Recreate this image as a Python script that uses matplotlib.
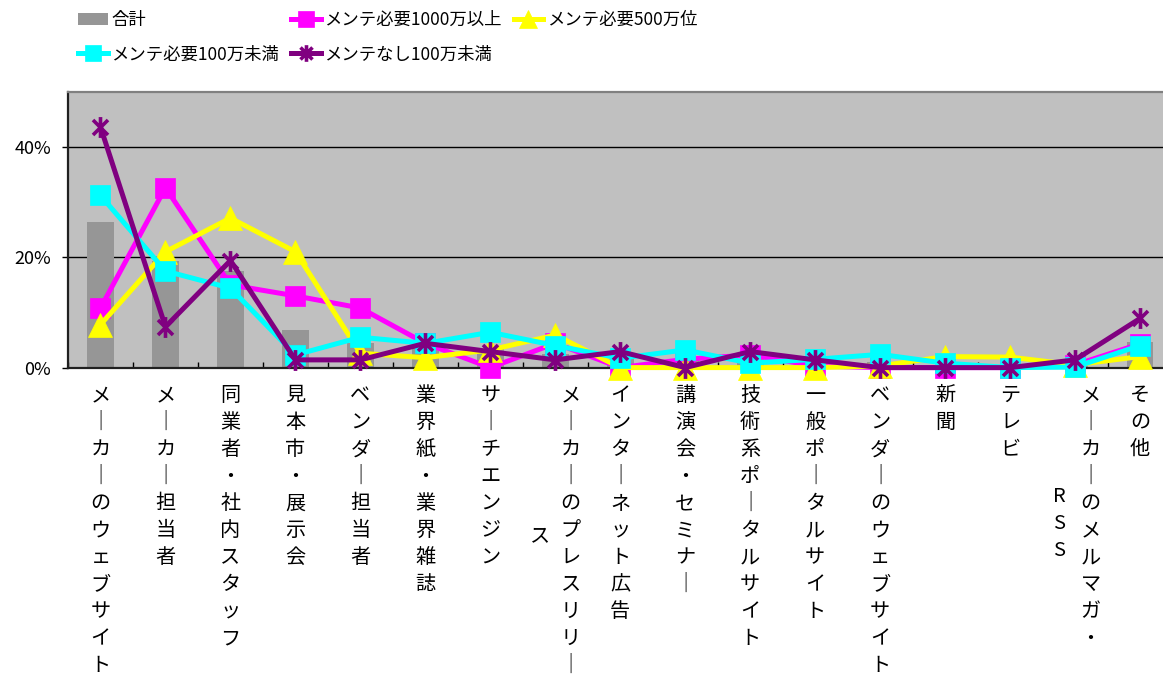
import matplotlib
matplotlib.use("Agg")
import matplotlib.pyplot as plt
from matplotlib.path import Path
from matplotlib.patches import Patch
import numpy as np

plt.rcParams['font.family'] = ['Noto Sans CJK JP', 'DejaVu Sans']

# ---- data -------------------------------------------------------------
categories = [
    "メーカーのウェブサイト", "メーカー担当者", "同業者・社内スタッフ", "見本市・展示会",
    "ベンダー担当者", "業界紙・業界雑誌", "サーチエンジン", "メーカーのプレスリリース",
    "インターネット広告", "講演会・セミナー", "技術系ポータルサイト", "一般ポータルサイト",
    "ベンダーのウェブサイト", "新聞", "テレビ", "メーカーのメルマガ・RSS", "その他",
]
total = [26.4, 19.3, 17.5, 6.8, 4.4, 4.0, 3.5, 2.5, 1.5, 1.5, 1.5, 1.0, 1.0, 0.5, 0.5, 0.5, 4.7]
maint_over_10m = [10.8, 32.6, 15.0, 13.0, 10.8, 4.4, 0.0, 4.4, 0.0, 1.5, 2.3, 0.3, 0.0, 0.0, 0.0, 0.5, 4.3]
maint_5m = [7.8, 21.0, 27.1, 21.0, 2.6, 1.8, 3.2, 5.9, 0.0, 0.0, 0.0, 0.0, 0.3, 2.0, 1.9, 0.5, 2.0]
maint_under_1m = [31.2, 17.5, 14.4, 2.3, 5.5, 4.4, 6.4, 4.0, 1.7, 3.2, 0.8, 1.5, 2.4, 0.8, 0.0, 0.1, 4.0]
no_maint_under_1m = [43.6, 7.4, 19.4, 1.4, 1.4, 4.4, 2.9, 1.4, 2.9, 0.0, 2.9, 1.4, 0.0, 0.0, 0.0, 1.4, 8.9]
series_names = ["合計", "メンテ必要1000万以上", "メンテ必要500万位",
                "メンテ必要100万未満", "メンテなし100万未満"]
y_ticks = [0, 20, 40]
y_tick_labels = ["0%", "20%", "40%"]

# ---- figure / axes (pixel geometry) -----------------------------------
W, H = 1163, 678
fig = plt.figure(figsize=(W / 100, H / 100), dpi=100)
left, right, top, bottom = 68, 1172.5, 91.7, 367.6
ax = fig.add_axes([left / W, 1 - bottom / H, (right - left) / W, (bottom - top) / H])
ax.set_facecolor('#C0C0C0')

x = np.arange(len(categories))
ax.bar(x, total, width=0.41, color='#969696', zorder=2)

# Excel-style asterisk: vertical stroke plus a diagonal cross
star = Path([(0, -1), (0, 1), (-0.72, -0.72), (0.72, 0.72), (-0.72, 0.72), (0.72, -0.72)],
            [Path.MOVETO, Path.LINETO] * 3)

series_styles = [
    (maint_over_10m, '#FF00FF', dict(marker='s', ms=14, mew=0.5)),
    (maint_5m, '#FFFF00', dict(marker='^', ms=17, mew=0.5)),
    (maint_under_1m, '#00FFFF', dict(marker='s', ms=14, mew=0.5)),
    (no_maint_under_1m, '#800080', dict(marker=star, ms=15, mew=2.6, mfc='none')),
]
handles = {}
for (vals, color, mk), name in zip(series_styles, series_names[1:]):
    kw = dict(mk)
    kw.setdefault('mfc', color)
    ln, = ax.plot(x, vals, color=color, lw=3.6, mec=color, clip_on=False,
                  zorder=3, solid_joinstyle='miter', **kw)
    handles[name] = ln
handles[series_names[0]] = Patch(facecolor='#969696', edgecolor='none')

ax.set_xlim(-0.5, len(categories) - 0.5)
ax.set_ylim(0, 50)
ax.set_yticks(y_ticks, y_tick_labels)
ax.tick_params(axis='y', length=4, width=1, direction='out', pad=8, labelsize=13,
               colors='black')
ax.yaxis.grid(True, color='black', lw=1.0)
ax.set_axisbelow(True)

ax.set_xticks(x, [''] * len(x))
ax.set_xticks(np.arange(len(categories) + 1) - 0.5, minor=True)
ax.tick_params(axis='x', which='major', length=0)
ax.tick_params(axis='x', which='minor', direction='in', length=4, width=1, color='black')

for side in ('left', 'bottom'):
    ax.spines[side].set_color('#202020')
    ax.spines[side].set_linewidth(1.6)
ax.spines['top'].set_color('#808080')
ax.spines['top'].set_linewidth(1.6)
ax.spines['right'].set_visible(False)

# ---- vertical (tategaki) category labels ------------------------------
VERTICAL_FORMS = {'ー': '｜'}
MAX_CHARS = 11
LABEL_SIZE = 14.5
PX = 0.72          # points per pixel at 100 dpi
STEP = 27.0        # pixel pitch between stacked characters
COL_GAP = 31       # pixel distance between wrapped columns
FIRST_CENTER = 26  # pixels from the axis line down to the first character's centre
BASE_SHIFT = 0.38 * LABEL_SIZE / PX  # em-box centre to baseline, in pixels


def split_columns(label):
    if len(label) <= MAX_CHARS:
        return [label]
    j = len(label)
    while j > 0 and label[j - 1].isascii():
        j -= 1
    if j < len(label) and j <= MAX_CHARS:
        return [label[:j], label[j:]]
    return [label[:MAX_CHARS], label[MAX_CHARS:]]


def put_column(i, text, dx, first_center):
    for j, ch in enumerate(text):
        cy = first_center + j * STEP
        ax.annotate(VERTICAL_FORMS.get(ch, ch), xy=(i, 0),
                    xycoords=('data', 'axes fraction'),
                    xytext=(dx * PX, -(cy + BASE_SHIFT) * PX),
                    textcoords='offset points', ha='center', va='baseline',
                    fontsize=LABEL_SIZE, annotation_clip=False)


for i, label in enumerate(categories):
    cols = split_columns(label)
    n = len(cols)
    first_mid = FIRST_CENTER + (len(cols[0]) - 1) * STEP / 2
    for k, col in enumerate(cols):
        dx = -(k - (n - 1) / 2) * COL_GAP
        if k == 0:
            start = FIRST_CENTER
        else:
            start = first_mid + 6 - (len(col) - 1) * STEP / 2
        put_column(i, col, dx, start)

# ---- legend -----------------------------------------------------------
order = [series_names[0], series_names[3], series_names[1], series_names[4], series_names[2]]
fig.legend([handles[n] for n in order], order, ncol=3, loc='upper left',
           bbox_to_anchor=(78 / W, 1 - 11 / H), frameon=False, fontsize=12.5,
           handlelength=1.7, handletextpad=0.2, columnspacing=0.7,
           labelspacing=0.95, borderpad=0, borderaxespad=0, markerscale=0.8)

fig.savefig('out.png', dpi=100)
